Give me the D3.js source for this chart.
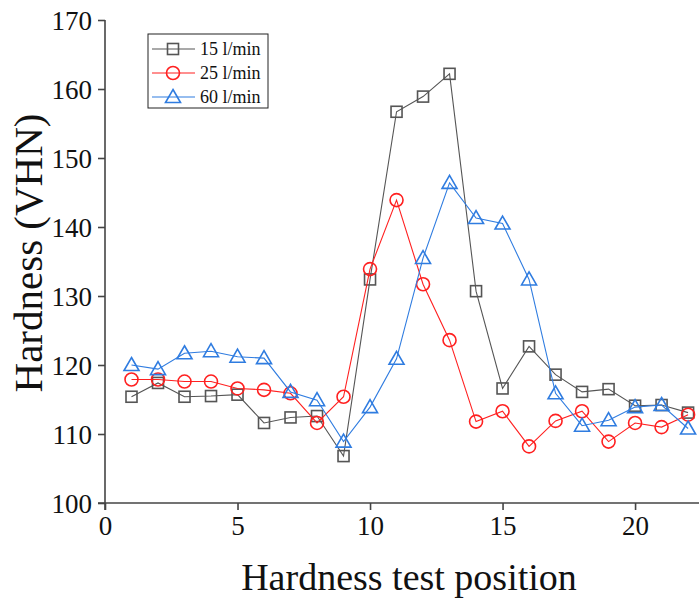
<!DOCTYPE html>
<html>
<head>
<meta charset="utf-8">
<script src="https://cdn.jsdelivr.net/npm/d3@7"></script>
<style>
  body { margin: 0; background: #fff; }
  svg text { font-family: "Liberation Serif", "DejaVu Serif", serif; fill: #111; }
</style>
</head>
<body>
<div id="chart"></div>
<script>
  // test positions and hardness readings per flow rate
  const positions = d3.range(1, 23);
  const flow15 = [115.4, 117.4, 115.4, 115.5, 115.7, 111.6, 112.4, 112.6, 106.8, 132.4, 156.7,
                  158.9, 162.2, 130.7, 116.6, 122.7, 118.6, 116.1, 116.5, 114.1, 114.2, 113.1];
  const flow25 = [117.9, 117.9, 117.6, 117.6, 116.6, 116.4, 115.9, 111.6, 115.4, 133.9, 143.9,
                  131.7, 123.6, 111.8, 113.3, 108.2, 111.9, 113.3, 108.9, 111.6, 111.0, 112.8];
  const flow60 = [120.0, 119.4, 121.7, 122.0, 121.2, 121.0, 116.1, 114.9, 108.9, 113.9, 120.9,
                  135.5, 146.4, 141.3, 140.5, 132.4, 115.9, 111.2, 112.0, 113.9, 114.2, 110.8];
  const seriesNames = ["15 l/min", "25 l/min", "60 l/min"];
  const xTicks = [0, 5, 10, 15, 20];
  const yTicks = [100, 110, 120, 130, 140, 150, 160, 170];

  const width = 699, height = 601;
  const svg = d3.select("#chart").append("svg")
    .attr("width", width).attr("height", height);

  const x = d3.scaleLinear().domain([0, 22.45]).range([105, 700]);
  const y = d3.scaleLinear().domain([100, 170]).range([503, 20]);

  const axisColor = "#444";

  // x axis
  const gx = svg.append("g").attr("transform", "translate(0," + y(100) + ")")
    .call(d3.axisBottom(x).tickValues(xTicks).tickSize(7).tickPadding(6));
  gx.select(".domain").attr("d", "M" + (x(0) - 7) + ",0H" + width);
  // y axis
  const gy = svg.append("g").attr("transform", "translate(" + x(0) + ",0)")
    .call(d3.axisLeft(y).tickValues(yTicks).tickSize(7).tickPadding(6));
  gy.select(".domain").attr("d", "M0," + y(170) + "V" + (y(100) + 7));

  svg.selectAll(".tick text").style("font-size", "27px")
    .style("font-family", "'Liberation Serif', serif").attr("fill", "#111");
  svg.selectAll(".domain, .tick line").attr("stroke", axisColor).attr("stroke-width", 1.6);
  gy.selectAll(".tick text").attr("dy", "0.35em");

  svg.append("text")
    .attr("x", 409).attr("y", 590)
    .attr("text-anchor", "middle")
    .style("font-size", "38px")
    .text("Hardness test position");

  svg.append("text")
    .attr("transform", "translate(42,253) rotate(-90)")
    .attr("text-anchor", "middle")
    .style("font-size", "41px")
    .text("Hardness (VHN)");

  const series = [
    {name: seriesNames[0], values: flow15, color: "#555555", shape: "square"},
    {name: seriesNames[1], values: flow25, color: "#ff2020", shape: "circle"},
    {name: seriesNames[2], values: flow60, color: "#2f7ce0", shape: "triangle"}
  ];

  const line = d3.line().x((d, i) => x(positions[i])).y(d => y(d));

  function drawMarker(g, shape, color) {
    if (shape === "square") {
      g.append("rect").attr("x", -5.5).attr("y", -5.5).attr("width", 11).attr("height", 11)
        .attr("fill", "none").attr("stroke", color).attr("stroke-width", 1.6);
    } else if (shape === "circle") {
      g.append("circle").attr("r", 6.5)
        .attr("fill", "none").attr("stroke", color).attr("stroke-width", 1.6);
    } else {
      g.append("path").attr("d", "M0,-7.5L7.5,5.5L-7.5,5.5Z")
        .attr("fill", "none").attr("stroke", color).attr("stroke-width", 1.6);
    }
  }

  series.forEach(s => {
    svg.append("path").datum(s.values)
      .attr("d", line)
      .attr("fill", "none")
      .attr("stroke", s.color)
      .attr("stroke-width", 1.1);
    svg.append("g").selectAll("g").data(s.values).enter().append("g")
      .attr("transform", (d, i) => "translate(" + x(positions[i]) + "," + y(d) + ")")
      .each(function() { drawMarker(d3.select(this), s.shape, s.color); });
  });

  // legend
  const legend = svg.append("g").attr("transform", "translate(148,34)");
  legend.append("rect").attr("width", 120).attr("height", 74)
    .attr("fill", "#fff").attr("stroke", "#222").attr("stroke-width", 1);
  series.forEach((s, i) => {
    const row = legend.append("g").attr("transform", "translate(0," + (15 + i * 24) + ")");
    row.append("line").attr("x1", 4).attr("x2", 47).attr("y1", 0).attr("y2", 0)
      .attr("stroke", s.color).attr("stroke-width", 1.1);
    const m = row.append("g").attr("transform", "translate(25,0)");
    drawMarker(m, s.shape, s.color);
    row.append("text").attr("x", 52).attr("y", 6)
      .style("font-size", "18px").text(s.name);
  });
</script>
</body>
</html>
